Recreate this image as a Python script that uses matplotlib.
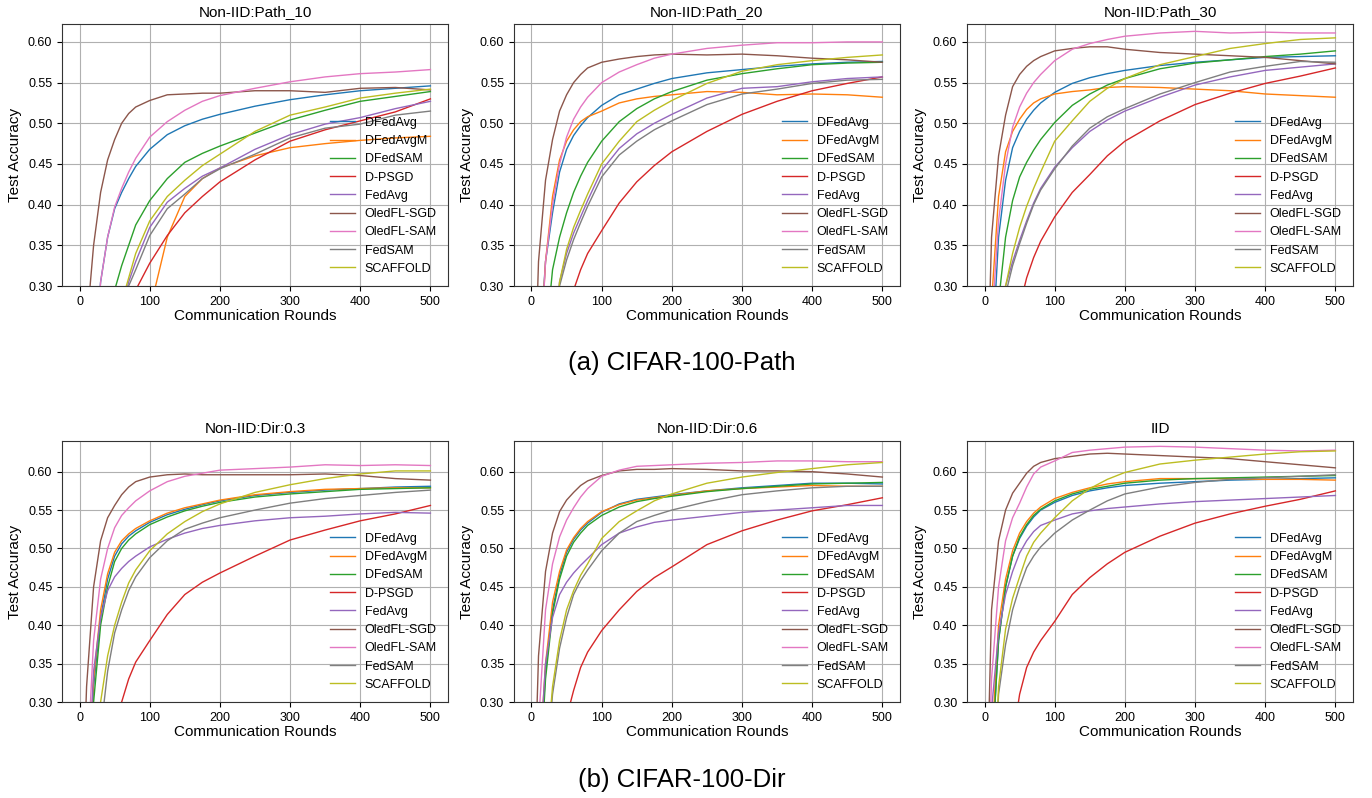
'''
CIFAR-100 test accuracy curves, Path and Dir partitions
'''

import numpy as np
import matplotlib.pyplot as plt

plt.rcParams['font.family'] = ['Liberation Sans', 'DejaVu Sans']

# communication rounds at which the curves were read
rounds = [0, 10, 20, 30, 40, 50, 60, 70, 80, 100, 125, 150, 175, 200, 250, 300, 350, 400, 450, 500]

methods = ["DFedAvg", "DFedAvgM", "DFedSAM", "D-PSGD", "FedAvg",
           "OledFL-SGD", "OledFL-SAM", "FedSAM", "SCAFFOLD"]

# ---- Non-IID:Path_10
path10_dfedavg = [0.02, 0.08, 0.2, 0.305, 0.36, 0.395, 0.415, 0.432, 0.447, 0.468, 0.486, 0.497, 0.505, 0.511, 0.521, 0.529, 0.535, 0.540, 0.543, 0.546]
path10_dfedavgm = [0.0, 0.0, 0.02, 0.04, 0.06, 0.08, 0.1, 0.13, 0.17, 0.27, 0.36, 0.41, 0.432, 0.445, 0.46, 0.47, 0.475, 0.479, 0.482, 0.484]
path10_dfedsam = [0.0, 0.02, 0.06, 0.12, 0.2, 0.295, 0.325, 0.35, 0.375, 0.405, 0.432, 0.452, 0.463, 0.472, 0.488, 0.504, 0.516, 0.527, 0.533, 0.539]
path10_dpsgd = [0.0, 0.0, 0.02, 0.05, 0.1, 0.16, 0.22, 0.26, 0.295, 0.328, 0.362, 0.39, 0.41, 0.428, 0.455, 0.478, 0.492, 0.503, 0.514, 0.53]
path10_fedavg = [0.0, 0.02, 0.06, 0.12, 0.18, 0.23, 0.27, 0.305, 0.33, 0.372, 0.403, 0.42, 0.435, 0.445, 0.468, 0.486, 0.499, 0.507, 0.518, 0.527]
path10_oledsgd = [0.05, 0.25, 0.35, 0.415, 0.455, 0.48, 0.50, 0.512, 0.52, 0.528, 0.535, 0.536, 0.537, 0.537, 0.540, 0.540, 0.538, 0.543, 0.544, 0.541]
path10_oledsam = [0.02, 0.08, 0.2, 0.305, 0.36, 0.397, 0.42, 0.44, 0.457, 0.483, 0.502, 0.516, 0.527, 0.534, 0.543, 0.551, 0.557, 0.561, 0.563, 0.566]
path10_fedsam = [0.0, 0.02, 0.06, 0.12, 0.18, 0.23, 0.27, 0.3, 0.32, 0.362, 0.395, 0.413, 0.432, 0.444, 0.462, 0.482, 0.494, 0.499, 0.51, 0.515]
path10_scaffold = [0.0, 0.02, 0.06, 0.12, 0.18, 0.23, 0.28, 0.31, 0.34, 0.38, 0.41, 0.43, 0.448, 0.462, 0.49, 0.51, 0.52, 0.531, 0.537, 0.542]

# ---- Non-IID:Path_20
path20_dfedavg = [0.03, 0.2, 0.33, 0.39, 0.44, 0.468, 0.485, 0.497, 0.507, 0.522, 0.535, 0.542, 0.549, 0.555, 0.562, 0.566, 0.570, 0.573, 0.575, 0.576]
path20_dfedavgm = [0.03, 0.18, 0.33, 0.41, 0.455, 0.478, 0.492, 0.502, 0.508, 0.515, 0.525, 0.53, 0.533, 0.535, 0.539, 0.538, 0.535, 0.536, 0.535, 0.532]
path20_dfedsam = [0.02, 0.1, 0.23, 0.32, 0.36, 0.39, 0.415, 0.435, 0.452, 0.478, 0.502, 0.518, 0.53, 0.539, 0.553, 0.561, 0.567, 0.572, 0.574, 0.575]
path20_dpsgd = [0.0, 0.0, 0.03, 0.08, 0.16, 0.25, 0.295, 0.32, 0.34, 0.368, 0.402, 0.428, 0.448, 0.465, 0.49, 0.511, 0.527, 0.54, 0.549, 0.557]
path20_fedavg = [0.0, 0.05, 0.13, 0.22, 0.305, 0.34, 0.365, 0.385, 0.405, 0.442, 0.469, 0.487, 0.5, 0.511, 0.531, 0.543, 0.545, 0.551, 0.555, 0.557]
path20_oledsgd = [0.05, 0.33, 0.43, 0.48, 0.515, 0.535, 0.55, 0.56, 0.568, 0.575, 0.579, 0.582, 0.584, 0.585, 0.584, 0.585, 0.583, 0.580, 0.578, 0.575]
path20_oledsam = [0.03, 0.17, 0.33, 0.4, 0.45, 0.483, 0.505, 0.52, 0.532, 0.55, 0.563, 0.572, 0.58, 0.585, 0.592, 0.596, 0.599, 0.599, 0.600, 0.600]
path20_fedsam = [0.0, 0.05, 0.13, 0.22, 0.3, 0.332, 0.357, 0.378, 0.398, 0.434, 0.461, 0.478, 0.492, 0.503, 0.523, 0.536, 0.542, 0.549, 0.553, 0.554]
path20_scaffold = [0.0, 0.05, 0.13, 0.22, 0.305, 0.345, 0.372, 0.393, 0.413, 0.45, 0.478, 0.502, 0.516, 0.528, 0.549, 0.564, 0.572, 0.577, 0.581, 0.584]

# ---- Non-IID:Path_30
path30_dfedavg = [0.02, 0.2, 0.36, 0.43, 0.47, 0.49, 0.505, 0.516, 0.525, 0.538, 0.549, 0.556, 0.561, 0.565, 0.571, 0.575, 0.578, 0.581, 0.582, 0.583]
path30_dfedavgm = [0.03, 0.28, 0.41, 0.465, 0.49, 0.505, 0.517, 0.525, 0.53, 0.536, 0.539, 0.541, 0.544, 0.545, 0.544, 0.542, 0.54, 0.536, 0.534, 0.532]
path30_dfedsam = [0.02, 0.12, 0.28, 0.36, 0.405, 0.434, 0.452, 0.467, 0.48, 0.501, 0.522, 0.536, 0.547, 0.555, 0.567, 0.574, 0.578, 0.582, 0.585, 0.589]
path30_dpsgd = [0.0, 0.0, 0.04, 0.1, 0.22, 0.275, 0.31, 0.335, 0.355, 0.385, 0.415, 0.437, 0.46, 0.478, 0.503, 0.523, 0.537, 0.549, 0.558, 0.568]
path30_fedavg = [0.0, 0.06, 0.15, 0.3, 0.33, 0.356, 0.38, 0.402, 0.42, 0.446, 0.47, 0.49, 0.504, 0.515, 0.532, 0.547, 0.557, 0.565, 0.569, 0.573]
path30_oledsgd = [0.05, 0.36, 0.46, 0.51, 0.545, 0.56, 0.57, 0.577, 0.582, 0.589, 0.592, 0.594, 0.594, 0.591, 0.587, 0.585, 0.583, 0.581, 0.577, 0.573]
path30_oledsam = [0.03, 0.25, 0.38, 0.45, 0.495, 0.52, 0.537, 0.55, 0.56, 0.577, 0.591, 0.598, 0.603, 0.607, 0.611, 0.613, 0.611, 0.612, 0.611, 0.611]
path30_fedsam = [0.0, 0.06, 0.15, 0.29, 0.325, 0.352, 0.377, 0.4, 0.418, 0.444, 0.472, 0.494, 0.508, 0.518, 0.536, 0.55, 0.563, 0.57, 0.576, 0.575]
path30_scaffold = [0.0, 0.06, 0.16, 0.3, 0.34, 0.372, 0.398, 0.42, 0.44, 0.478, 0.503, 0.527, 0.543, 0.555, 0.572, 0.582, 0.592, 0.598, 0.603, 0.605]

# ---- Non-IID:Dir:0.3
dir03_dfedavg = [0.03, 0.14, 0.32, 0.41, 0.46, 0.49, 0.506, 0.516, 0.523, 0.534, 0.544, 0.551, 0.557, 0.562, 0.569, 0.573, 0.576, 0.578, 0.58, 0.581]
dir03_dfedavgm = [0.03, 0.15, 0.33, 0.42, 0.467, 0.495, 0.51, 0.519, 0.526, 0.536, 0.546, 0.553, 0.558, 0.563, 0.57, 0.574, 0.577, 0.578, 0.579, 0.579]
dir03_dfedsam = [0.03, 0.12, 0.3, 0.4, 0.45, 0.483, 0.5, 0.511, 0.519, 0.531, 0.541, 0.549, 0.555, 0.56, 0.567, 0.571, 0.574, 0.577, 0.578, 0.579]
dir03_dpsgd = [0.0, 0.0, 0.03, 0.08, 0.15, 0.25, 0.30, 0.33, 0.352, 0.38, 0.414, 0.44, 0.456, 0.468, 0.49, 0.511, 0.524, 0.536, 0.545, 0.556]
dir03_fedavg = [0.03, 0.15, 0.34, 0.41, 0.445, 0.463, 0.474, 0.483, 0.49, 0.502, 0.512, 0.52, 0.526, 0.53, 0.536, 0.54, 0.542, 0.545, 0.547, 0.546]
dir03_oledsgd = [0.05, 0.32, 0.45, 0.51, 0.54, 0.556, 0.57, 0.58, 0.587, 0.593, 0.596, 0.597, 0.596, 0.596, 0.596, 0.596, 0.597, 0.595, 0.591, 0.589]
dir03_oledsam = [0.03, 0.2, 0.38, 0.46, 0.5, 0.527, 0.543, 0.553, 0.562, 0.575, 0.587, 0.594, 0.598, 0.602, 0.604, 0.606, 0.609, 0.608, 0.609, 0.608]
dir03_fedsam = [0.0, 0.05, 0.15, 0.26, 0.34, 0.39, 0.42, 0.445, 0.463, 0.488, 0.51, 0.525, 0.533, 0.54, 0.55, 0.559, 0.565, 0.569, 0.573, 0.576]
dir03_scaffold = [0.0, 0.06, 0.18, 0.3, 0.36, 0.4, 0.43, 0.455, 0.472, 0.497, 0.519, 0.535, 0.548, 0.558, 0.573, 0.583, 0.591, 0.597, 0.601, 0.601]

# ---- Non-IID:Dir:0.6
dir06_dfedavg = [0.03, 0.18, 0.34, 0.42, 0.465, 0.495, 0.512, 0.524, 0.533, 0.547, 0.558, 0.564, 0.567, 0.57, 0.575, 0.579, 0.582, 0.585, 0.585, 0.584]
dir06_dfedavgm = [0.03, 0.2, 0.35, 0.43, 0.47, 0.498, 0.514, 0.526, 0.535, 0.548, 0.557, 0.563, 0.566, 0.569, 0.575, 0.578, 0.58, 0.582, 0.581, 0.581]
dir06_dfedsam = [0.03, 0.17, 0.33, 0.415, 0.46, 0.49, 0.508, 0.52, 0.53, 0.543, 0.554, 0.561, 0.565, 0.568, 0.574, 0.578, 0.581, 0.584, 0.585, 0.586]
dir06_dpsgd = [0.0, 0.0, 0.04, 0.1, 0.18, 0.28, 0.315, 0.345, 0.365, 0.393, 0.42, 0.444, 0.462, 0.476, 0.505, 0.523, 0.537, 0.549, 0.557, 0.566]
dir06_fedavg = [0.03, 0.2, 0.35, 0.41, 0.44, 0.456, 0.468, 0.478, 0.487, 0.505, 0.52, 0.528, 0.534, 0.537, 0.542, 0.547, 0.55, 0.553, 0.556, 0.556]
dir06_oledsgd = [0.05, 0.36, 0.47, 0.52, 0.548, 0.563, 0.573, 0.582, 0.588, 0.595, 0.601, 0.603, 0.603, 0.604, 0.603, 0.601, 0.601, 0.6, 0.597, 0.593]
dir06_oledsam = [0.03, 0.27, 0.42, 0.48, 0.515, 0.537, 0.553, 0.567, 0.578, 0.594, 0.602, 0.607, 0.608, 0.609, 0.611, 0.612, 0.614, 0.614, 0.613, 0.613]
dir06_fedsam = [0.0, 0.08, 0.2, 0.31, 0.37, 0.41, 0.44, 0.458, 0.472, 0.497, 0.52, 0.535, 0.543, 0.55, 0.561, 0.57, 0.575, 0.579, 0.581, 0.581]
dir06_scaffold = [0.0, 0.08, 0.21, 0.32, 0.38, 0.42, 0.445, 0.465, 0.48, 0.513, 0.535, 0.549, 0.562, 0.571, 0.585, 0.593, 0.599, 0.604, 0.609, 0.612]

# ---- IID
iid_dfedavg = [0.03, 0.22, 0.38, 0.45, 0.49, 0.513, 0.529, 0.541, 0.55, 0.56, 0.569, 0.575, 0.579, 0.582, 0.585, 0.587, 0.589, 0.59, 0.591, 0.592]
iid_dfedavgm = [0.03, 0.24, 0.4, 0.46, 0.497, 0.52, 0.535, 0.546, 0.554, 0.565, 0.573, 0.579, 0.584, 0.587, 0.591, 0.591, 0.591, 0.59, 0.59, 0.589]
iid_dfedsam = [0.03, 0.22, 0.38, 0.45, 0.49, 0.515, 0.531, 0.543, 0.551, 0.562, 0.571, 0.577, 0.581, 0.585, 0.589, 0.591, 0.592, 0.593, 0.594, 0.595]
iid_dpsgd = [0.0, 0.02, 0.08, 0.16, 0.25, 0.31, 0.345, 0.365, 0.38, 0.405, 0.44, 0.462, 0.48, 0.495, 0.516, 0.533, 0.545, 0.555, 0.564, 0.575]
iid_fedavg = [0.03, 0.29, 0.39, 0.44, 0.47, 0.494, 0.51, 0.522, 0.53, 0.537, 0.545, 0.549, 0.552, 0.554, 0.558, 0.561, 0.563, 0.565, 0.567, 0.569]
iid_oledsgd = [0.05, 0.42, 0.51, 0.55, 0.572, 0.585, 0.598, 0.607, 0.612, 0.617, 0.62, 0.623, 0.624, 0.623, 0.621, 0.619, 0.617, 0.613, 0.609, 0.605]
iid_oledsam = [0.04, 0.33, 0.45, 0.51, 0.54, 0.559, 0.58, 0.597, 0.606, 0.614, 0.625, 0.628, 0.63, 0.632, 0.633, 0.632, 0.63, 0.628, 0.627, 0.628]
iid_fedsam = [0.02, 0.12, 0.31, 0.375, 0.42, 0.45, 0.475, 0.49, 0.502, 0.52, 0.537, 0.55, 0.562, 0.571, 0.58, 0.586, 0.59, 0.592, 0.594, 0.596]
iid_scaffold = [0.02, 0.12, 0.32, 0.395, 0.435, 0.463, 0.49, 0.508, 0.52, 0.54, 0.562, 0.578, 0.59, 0.599, 0.61, 0.615, 0.619, 0.623, 0.626, 0.627]

titles = ["Non-IID:Path_10", "Non-IID:Path_20", "Non-IID:Path_30",
          "Non-IID:Dir:0.3", "Non-IID:Dir:0.6", "IID"]

panels = [
    [path10_dfedavg, path10_dfedavgm, path10_dfedsam, path10_dpsgd, path10_fedavg,
     path10_oledsgd, path10_oledsam, path10_fedsam, path10_scaffold],
    [path20_dfedavg, path20_dfedavgm, path20_dfedsam, path20_dpsgd, path20_fedavg,
     path20_oledsgd, path20_oledsam, path20_fedsam, path20_scaffold],
    [path30_dfedavg, path30_dfedavgm, path30_dfedsam, path30_dpsgd, path30_fedavg,
     path30_oledsgd, path30_oledsam, path30_fedsam, path30_scaffold],
    [dir03_dfedavg, dir03_dfedavgm, dir03_dfedsam, dir03_dpsgd, dir03_fedavg,
     dir03_oledsgd, dir03_oledsam, dir03_fedsam, dir03_scaffold],
    [dir06_dfedavg, dir06_dfedavgm, dir06_dfedsam, dir06_dpsgd, dir06_fedavg,
     dir06_oledsgd, dir06_oledsam, dir06_fedsam, dir06_scaffold],
    [iid_dfedavg, iid_dfedavgm, iid_dfedsam, iid_dpsgd, iid_fedavg,
     iid_oledsgd, iid_oledsam, iid_fedsam, iid_scaffold],
]

fig = plt.figure(figsize=(13.72, 7.98), dpi=100)

lefts = [0.0452, 0.3746, 0.7048]
width = 0.2813
bottoms = [0.6416, 0.1203]
heights = [0.3283, 0.3271]
ytops = [0.622, 0.640]

for k in range(6):
    row, col = divmod(k, 3)
    ax = fig.add_axes([lefts[col], bottoms[row], width, heights[row]])
    for name, vals in zip(methods, panels[k]):
        ax.plot(rounds, vals, linewidth=1.0, label=name)

    ax.set_xlim(-25, 525)
    ax.set_ylim(0.30, ytops[row])
    ax.set_xticks(np.arange(0, 501, 100))
    ax.set_yticks(np.arange(0.30, 0.601, 0.05))
    ax.yaxis.set_major_formatter(plt.FormatStrFormatter('%.2f'))
    ax.tick_params(labelsize=9)
    ax.grid(True, color='#b0b0b0', linewidth=0.8)
    for sp in ax.spines.values():
        sp.set_color('#333333')

    ax.set_title(titles[k], fontsize=11)
    ax.set_xlabel("Communication Rounds", fontsize=11, labelpad=1)
    ax.set_ylabel("Test Accuracy", fontsize=11)
    ax.legend(loc='lower right', fontsize=9, frameon=False)

fig.text(0.497, 0.545, "(a) CIFAR-100-Path", ha='center', va='center', fontsize=18.5)
fig.text(0.497, 0.0226, "(b) CIFAR-100-Dir", ha='center', va='center', fontsize=18.5)

fig.savefig("out.png", dpi=100)
plt.close(fig)
